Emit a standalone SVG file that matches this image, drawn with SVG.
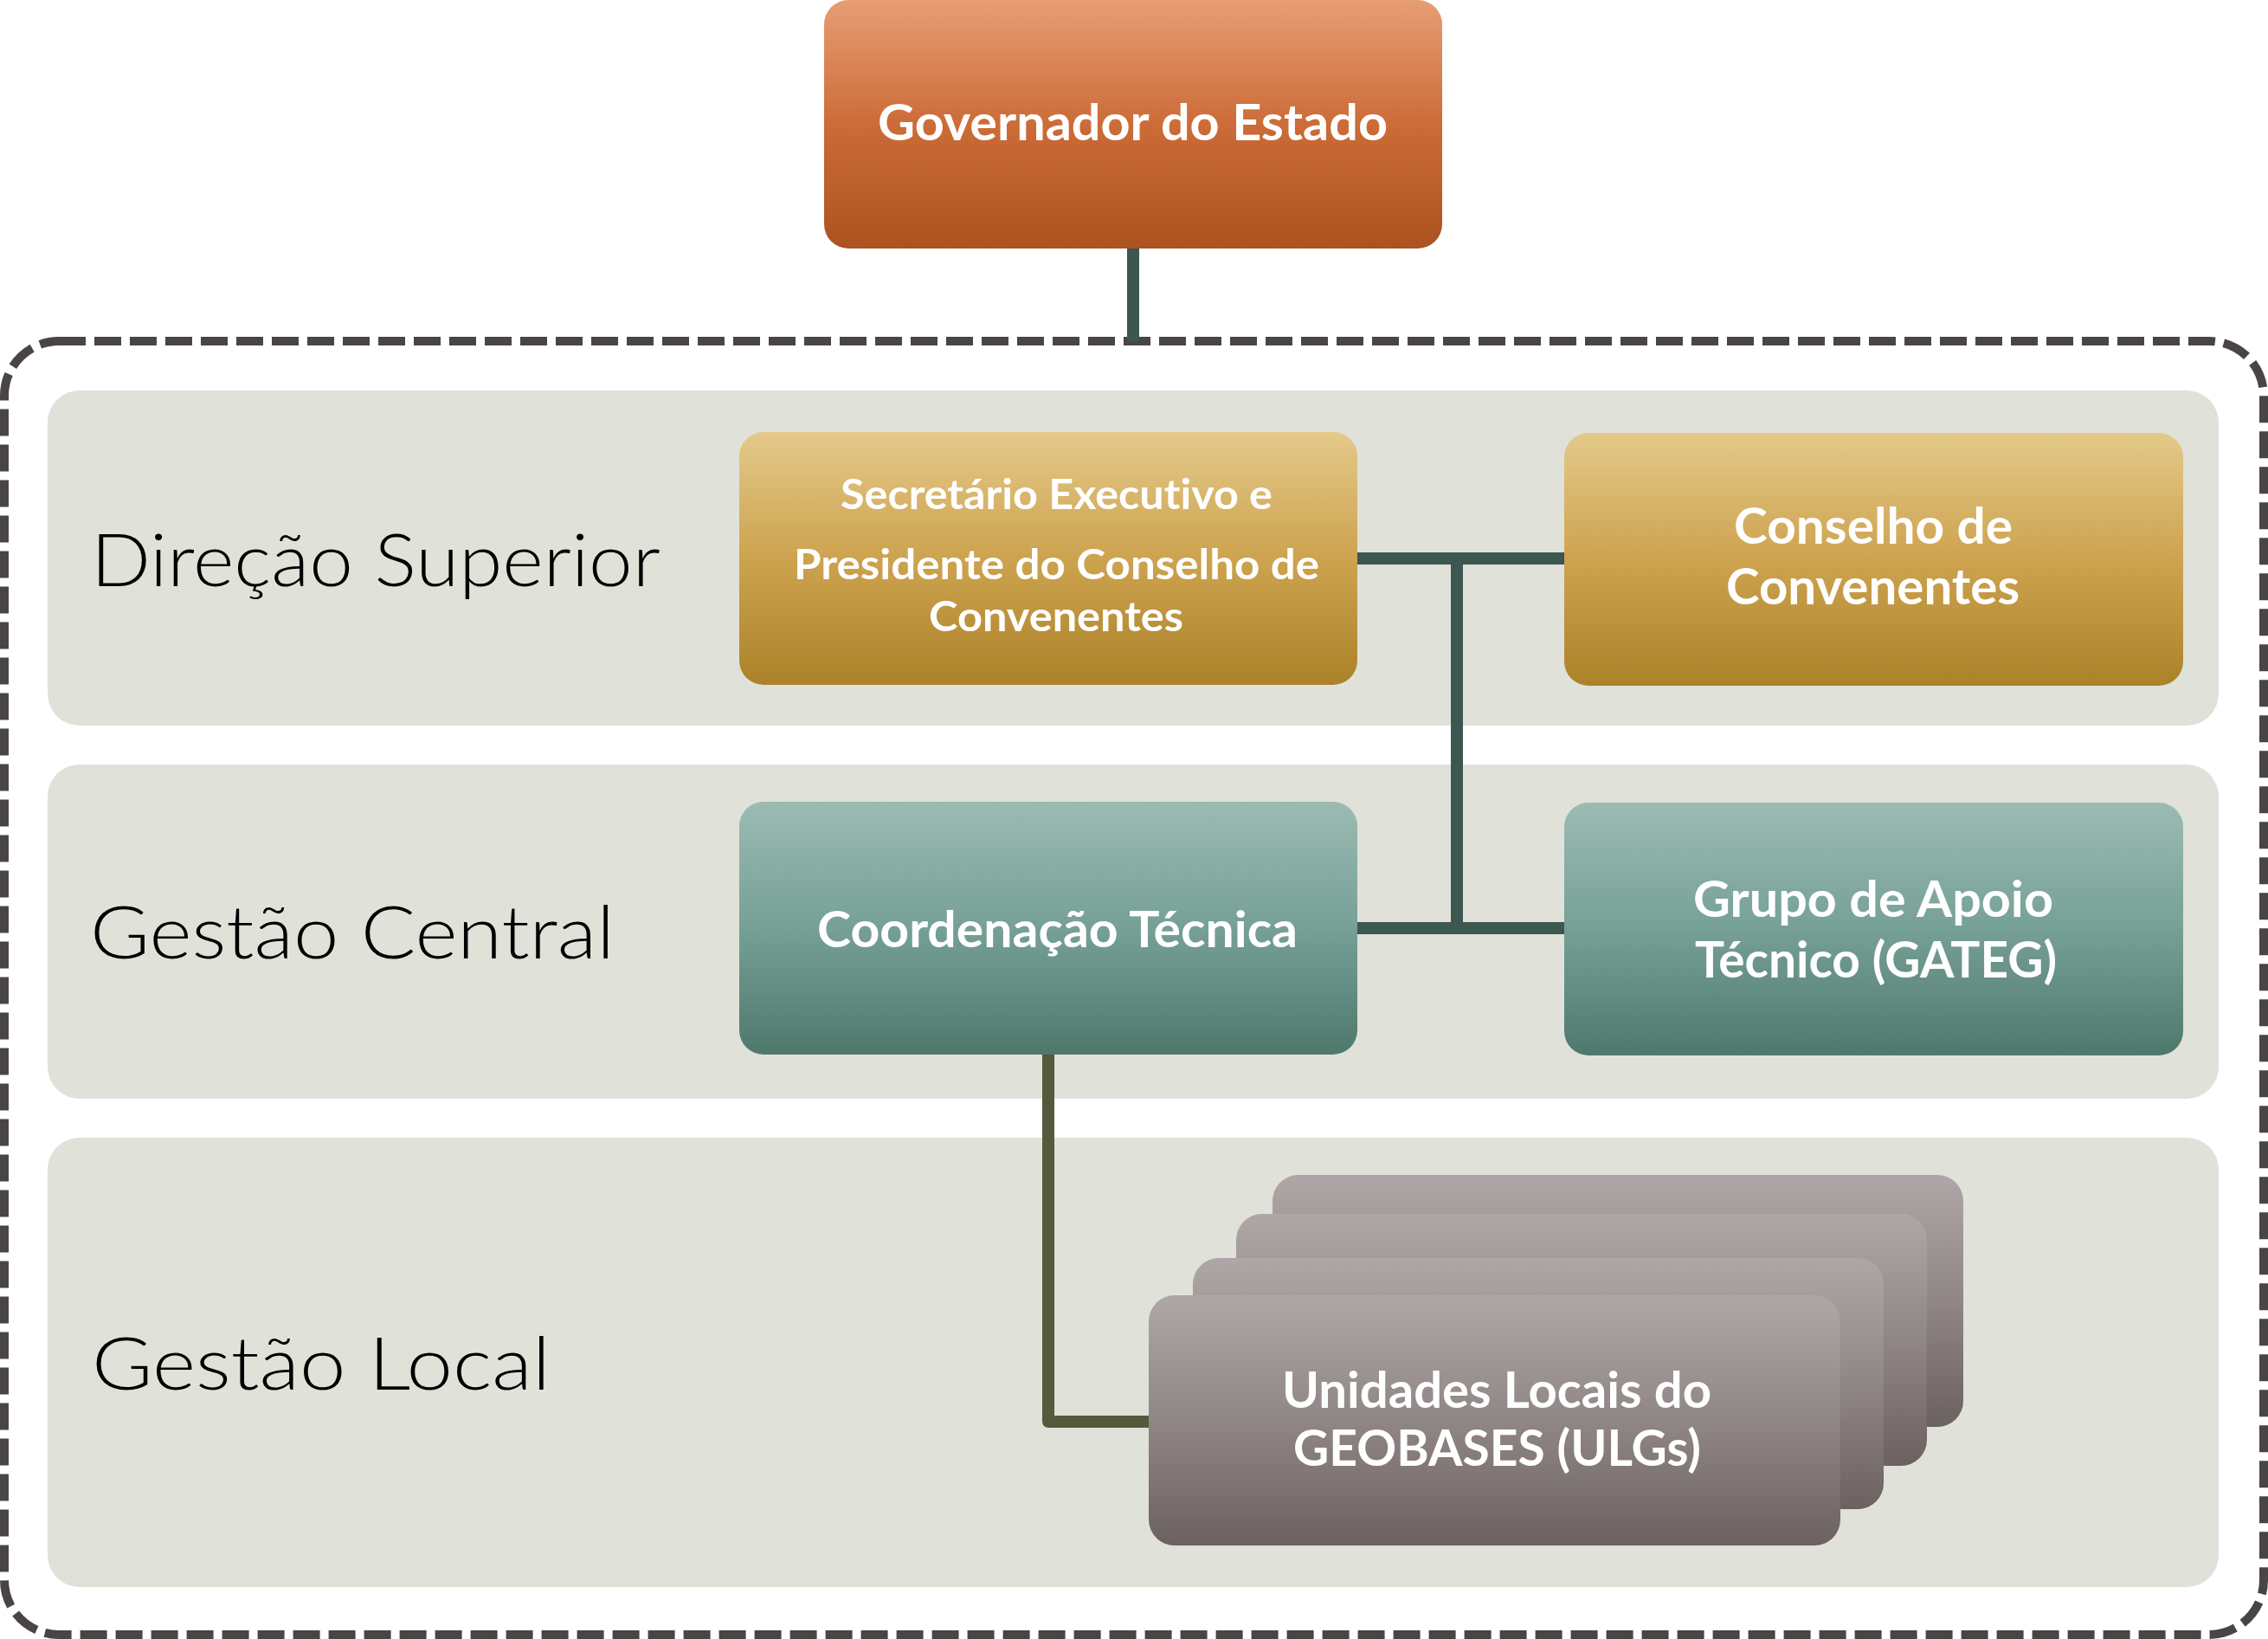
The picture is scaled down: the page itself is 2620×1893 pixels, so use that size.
<svg xmlns="http://www.w3.org/2000/svg" width="2620" height="1893" viewBox="0 0 2620 1893">
<defs>
<linearGradient id="gOrange" x1="0" y1="0" x2="0" y2="1"><stop offset="0" stop-color="#e89d74"/><stop offset="0.5" stop-color="#cc6c38"/><stop offset="1" stop-color="#ab521e"/></linearGradient>
<linearGradient id="gGold" x1="0" y1="0" x2="0" y2="1"><stop offset="0" stop-color="#e4c98a"/><stop offset="0.5" stop-color="#cda34f"/><stop offset="1" stop-color="#ab8229"/></linearGradient>
<linearGradient id="gTeal" x1="0" y1="0" x2="0" y2="1"><stop offset="0" stop-color="#9bbbb3"/><stop offset="0.5" stop-color="#76a096"/><stop offset="1" stop-color="#4f786d"/></linearGradient>
<linearGradient id="gGray" x1="0" y1="0" x2="0" y2="1"><stop offset="0" stop-color="#afa7a7"/><stop offset="0.5" stop-color="#8f8685"/><stop offset="1" stop-color="#6a6160"/></linearGradient>
<style>
.panel{fill:#e0e1d8}
.lvl{font-family:Lato,"Open Sans","Liberation Sans",sans-serif;font-weight:300;font-size:84px;fill:#000}
.wt{font-family:Lato,"Open Sans","Liberation Sans",sans-serif;font-weight:700;fill:#fff;font-variant-ligatures:none}
.conn{fill:none;stroke:#3b5750;stroke-width:14}
.conn2{fill:none;stroke:#545a3b;stroke-width:14;stroke-linejoin:round}
.border{fill:none;stroke:#4a4545;stroke-width:10;stroke-dasharray:31 10}
</style>
</defs>
<rect width="2620" height="1893" fill="#fff"/>
<g id="panels">
<rect class="panel" x="55" y="451" width="2508" height="387" rx="37"/>
<rect class="panel" x="55" y="883" width="2508" height="386" rx="37"/>
<rect class="panel" x="55" y="1314" width="2508" height="519" rx="37"/>
</g>
<rect id="outer-border" class="border" x="5" y="394" width="2610" height="1494" rx="63"/>
<g id="levels">
<text class="lvl" x="105" y="677" textLength="658" lengthAdjust="spacingAndGlyphs">Direção Superior</text>
<text class="lvl" x="104" y="1107" textLength="606" lengthAdjust="spacingAndGlyphs">Gestão Central</text>
<text class="lvl" x="106" y="1605" textLength="530" lengthAdjust="spacingAndGlyphs">Gestão Local</text>
</g>
<g id="connectors">
<path class="conn" d="M1309,287 V394"/>
<path class="conn" d="M1568,645 H1807"/>
<path class="conn" d="M1683,645 V1072"/>
<path class="conn" d="M1568,1072 H1808"/>
<path class="conn2" d="M1211,1218 V1642 H1330"/>
</g>
<g id="governador">
<rect x="952" y="0" width="714" height="287" rx="28" fill="url(#gOrange)"/>
<text class="wt" x="1014" y="162" font-size="58" textLength="589" lengthAdjust="spacingAndGlyphs">Governador do Estado</text>
</g>
<g id="secretario">
<rect x="854" y="499" width="714" height="292" rx="28" fill="url(#gGold)"/>
<text class="wt" font-size="47" x="971" y="588" textLength="499" lengthAdjust="spacingAndGlyphs">Secretário Executivo e</text>
<text class="wt" font-size="47" x="917" y="669" textLength="607" lengthAdjust="spacingAndGlyphs">Presidente do Conselho de</text>
<text class="wt" font-size="47" x="1073" y="729" textLength="294" lengthAdjust="spacingAndGlyphs">Convenentes</text>
</g>
<g id="conselho">
<rect x="1807" y="500" width="715" height="292" rx="28" fill="url(#gGold)"/>
<text class="wt" font-size="57" x="2003" y="628" textLength="322" lengthAdjust="spacingAndGlyphs">Conselho de</text>
<text class="wt" font-size="57" x="1994" y="698" textLength="339" lengthAdjust="spacingAndGlyphs">Convenentes</text>
</g>
<g id="coordenacao">
<rect x="854" y="926" width="714" height="292" rx="28" fill="url(#gTeal)"/>
<text class="wt" font-size="58" x="944" y="1094" textLength="555" lengthAdjust="spacingAndGlyphs">Coordenação Técnica</text>
</g>
<g id="grupo">
<rect x="1807" y="927" width="715" height="292" rx="28" fill="url(#gTeal)"/>
<text class="wt" font-size="58" x="1956" y="1059" textLength="416" lengthAdjust="spacingAndGlyphs">Grupo de Apoio</text>
<text class="wt" font-size="58" x="1958" y="1129" textLength="418" lengthAdjust="spacingAndGlyphs">Técnico (GATEG)</text>
</g>
<g id="ulgs">
<rect x="1470" y="1357" width="798" height="291" rx="30" fill="url(#gGray)"/>
<rect x="1428" y="1402" width="798" height="291" rx="30" fill="url(#gGray)"/>
<rect x="1378" y="1453" width="798" height="290" rx="30" fill="url(#gGray)"/>
<rect x="1327" y="1496" width="799" height="289" rx="30" fill="url(#gGray)"/>
<text class="wt" font-size="58" x="1481" y="1626" textLength="496" lengthAdjust="spacingAndGlyphs">Unidades Locais do</text>
<text class="wt" font-size="58" x="1494" y="1693" textLength="471" lengthAdjust="spacingAndGlyphs">GEOBASES (ULGs)</text>
</g>
</svg>
